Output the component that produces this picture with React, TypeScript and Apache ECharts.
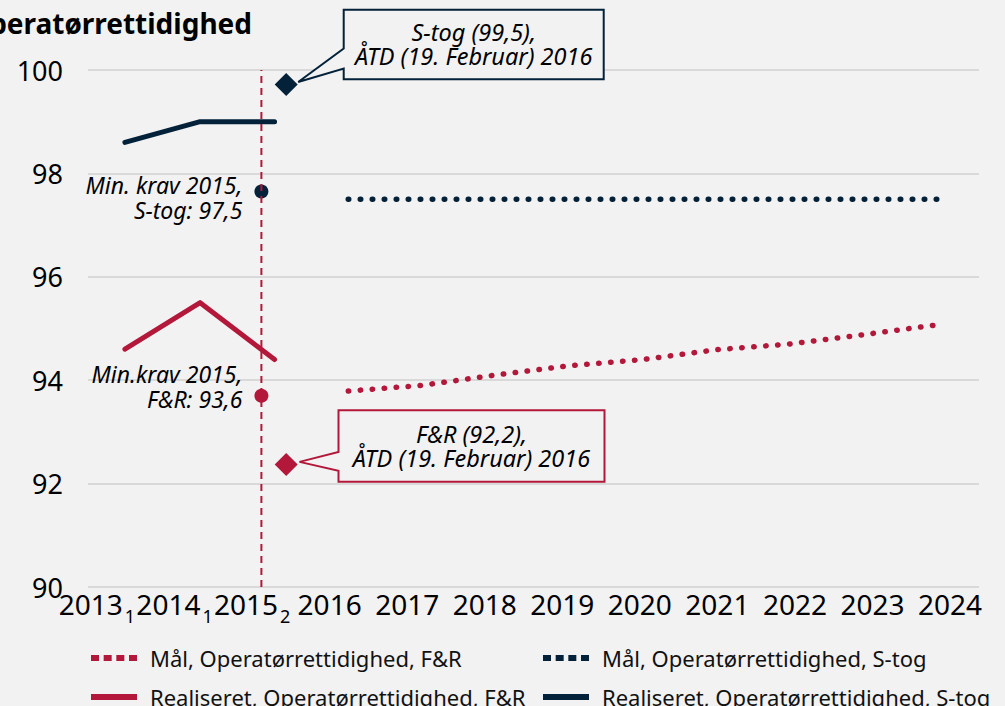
import React, { useEffect, useRef } from 'react';
import * as echarts from 'echarts';

const RED = '#B3173A';
const NAVY = '#03223A';
const BG = '#F2F2F2';
const FONT = '"Noto Sans", sans-serif';

// X axis tick labels (years) and their footnote subscripts
const yearTicks = [2013, 2014, 2015, 2016, 2017, 2018, 2019, 2020, 2021, 2022, 2023, 2024];
const yearSubscripts: Record<number, string> = { 2013: '1', 2014: '1', 2015: '2' };
const yTicks = [90, 92, 94, 96, 98, 100];

// Realised (actual) values
const realizedX = [2013.36, 2014.33, 2015.29];
const realizedFR = [94.6, 95.5, 94.4];
const realizedStog = [98.6, 99.0, 99.0];

// Targets (Mål)
const targetX = [2016.24, 2017.19, 2018.14, 2019.09, 2020.04, 2020.99, 2021.93, 2022.88, 2023.83];
const targetFR = [93.79, 93.9, 94.1, 94.28, 94.4, 94.59, 94.7, 94.88, 95.07];
const targetStog = [97.5, 97.5, 97.5, 97.5, 97.5, 97.5, 97.5, 97.5, 97.5];

// Minimum requirement 2015
const minKravX = 2015.12;
const minKravStog = 97.65;
const minKravFR = 93.7;

// ÅTD 19 Feb 2016
const atdX = 2015.44;
const atdStog = 99.72;
const atdFR = 92.37;

// Vertical reference line
const refLineX = 2015.12;
const refLineY = [90, 100];

const NAME_MAAL_FR = 'Mål, Operatørrettidighed, F&R';
const NAME_MAAL_ST = 'Mål, Operatørrettidighed, S-tog';
const NAME_REAL_FR = 'Realiseret, Operatørrettidighed, F&R';
const NAME_REAL_ST = 'Realiseret, Operatørrettidighed, S-tog';

const zip = (xs: number[], ys: number[]) => xs.map((x, i) => [x, ys[i]]);

const DOTTED_ICON = 'path://M0,0h8v6h-8zM12.67,0h8v6h-8zM25.33,0h8v6h-8zM38,0h8v6h-8z';

export default function App() {
  const ref = useRef<HTMLDivElement>(null);
  useEffect(() => {
    const chart = echarts.init(ref.current!, null, { renderer: 'svg' });
    const legendItem = (name: string, left: number, top: number, icon: string) => ({
      left,
      top,
      itemWidth: 46,
      itemHeight: 6,
      selectedMode: false,
      textStyle: { fontSize: 22, lineHeight: 22, color: '#111', fontFamily: FONT, padding: [0, 0, 0, 8] },
      data: [{ name, icon }],
    });
    const option: any = {
      animation: false,
      backgroundColor: BG,
      grid: { left: 88, right: 26, top: 70, bottom: 119, containLabel: false },
      xAxis: {
        type: 'value',
        min: 2012.884,
        max: 2024.374,
        axisLine: { show: false },
        axisTick: { show: false },
        splitLine: { show: false },
        axisLabel: {
          customValues: yearTicks,
          margin: 3,
          formatter: (v: number) => (yearSubscripts[v] ? `{a|${v}}{s|${yearSubscripts[v]}}` : `{a|${v}}`),
          rich: {
            a: { fontSize: 28, lineHeight: 28, verticalAlign: 'top', color: '#000', fontFamily: FONT },
            s: { fontSize: 18, lineHeight: 35, verticalAlign: 'bottom', color: '#000', fontFamily: FONT, padding: [0, 0, 0, 2] },
          },
        },
      },
      yAxis: {
        type: 'value',
        min: yTicks[0],
        max: yTicks[yTicks.length - 1],
        interval: 2,
        axisLine: { show: false },
        axisTick: { show: false },
        axisLabel: { fontSize: 27, color: '#000', margin: 25, fontFamily: FONT },
        splitLine: { lineStyle: { color: '#D9D9D9', width: 2 } },
      },
      legend: [
        legendItem(NAME_MAAL_FR, 86, 642, DOTTED_ICON),
        legendItem(NAME_REAL_FR, 86, 681, 'rect'),
        legendItem(NAME_MAAL_ST, 538, 642, DOTTED_ICON),
        legendItem(NAME_REAL_ST, 538, 681, 'rect'),
      ],
      graphic: [
        {
          type: 'text',
          style: {
            text: 'Operatørrettidighed',
            x: 252,
            y: 22.5,
            align: 'right',
            verticalAlign: 'middle',
            fontSize: 28,
            fontWeight: 'bold',
            fontFamily: FONT,
            fill: '#000',
          },
        },
      ],
      series: [
        {
          name: NAME_REAL_ST,
          type: 'line',
          data: zip(realizedX, realizedStog),
          symbol: 'none',
          color: NAVY,
          lineStyle: { color: NAVY, width: 5, cap: 'round', join: 'round' },
          silent: true,
        },
        {
          name: NAME_REAL_FR,
          type: 'line',
          data: zip(realizedX, realizedFR),
          symbol: 'none',
          color: RED,
          lineStyle: { color: RED, width: 5, cap: 'round', join: 'round' },
          silent: true,
        },
        {
          name: NAME_MAAL_ST,
          type: 'line',
          data: zip(targetX, targetStog),
          symbol: 'none',
          color: NAVY,
          lineStyle: { color: NAVY, width: 5.5, type: [0.5, 11.5], cap: 'round' },
          silent: true,
        },
        {
          name: NAME_MAAL_FR,
          type: 'line',
          data: zip(targetX, targetFR),
          symbol: 'none',
          color: RED,
          lineStyle: { color: RED, width: 5.5, type: [0.5, 11.5], cap: 'round' },
          silent: true,
        },
        {
          name: 'ref',
          type: 'line',
          data: refLineY.map((y) => [refLineX, y]),
          symbol: 'none',
          lineStyle: { color: RED, width: 2, type: [7, 5] },
          silent: true,
        },
        {
          name: 'minKravStog',
          type: 'scatter',
          symbol: 'circle',
          symbolSize: 14,
          itemStyle: { color: NAVY, opacity: 1 },
          silent: true,
          data: [
            {
              value: [minKravX, minKravStog],
              label: {
                show: true,
                position: 'left',
                distance: 12,
                offset: [0, 6],
                align: 'right',
                formatter: 'Min. krav 2015,\nS-tog: 97,5',
                fontSize: 23,
                lineHeight: 25.5,
                fontStyle: 'italic',
                color: '#000',
                fontFamily: FONT,
              },
            },
          ],
        },
        {
          name: 'minKravFR',
          type: 'scatter',
          symbol: 'circle',
          symbolSize: 14,
          itemStyle: { color: RED, opacity: 1 },
          silent: true,
          data: [
            {
              value: [minKravX, minKravFR],
              label: {
                show: true,
                position: 'left',
                distance: 12,
                offset: [0, -9],
                align: 'right',
                formatter: 'Min.krav 2015,\nF&R: 93,6',
                fontSize: 23,
                lineHeight: 25.5,
                fontStyle: 'italic',
                color: '#000',
                fontFamily: FONT,
              },
            },
          ],
        },
        {
          name: 'atd',
          type: 'scatter',
          symbol: 'diamond',
          symbolSize: 23,
          silent: true,
          data: [
            { value: [atdX, atdStog], itemStyle: { color: NAVY, opacity: 1 } },
            { value: [atdX, atdFR], itemStyle: { color: RED, opacity: 1 } },
          ],
        },
      ],
    };
    chart.setOption(option);

    const callout = (
      p: number[],
      color: string,
      text: string,
      L: number, R: number, T: number, B: number,
      pu: number, pl: number, tx: number, ty: number
    ) => {
      const [px, py] = p;
      const l = px + L, r = px + R, t = py + T, b = py + B;
      return [
        {
          type: 'polygon',
          z: 100,
          shape: {
            points: [
              [l, t], [r, t], [r, b], [l, b], [l, py + pl], [px + tx, py + ty], [l, py + pu],
            ],
          },
          style: { fill: BG, stroke: color, lineWidth: 2 },
        },
        {
          type: 'text',
          z: 101,
          style: {
            text,
            x: (l + r) / 2,
            y: (t + b) / 2,
            align: 'center',
            verticalAlign: 'middle',
            fontSize: 23.5,
            lineHeight: 24,
            fontStyle: 'italic',
            fontFamily: FONT,
            fill: '#000',
          },
        },
      ];
    };
    const pS = chart.convertToPixel({ xAxisIndex: 0, yAxisIndex: 0 }, [atdX, atdStog]) as number[];
    const pF = chart.convertToPixel({ xAxisIndex: 0, yAxisIndex: 0 }, [atdX, atdFR]) as number[];
    chart.setOption({
      graphic: [
        option.graphic[0],
        ...callout(pS, NAVY, 'S-tog (99,5),\nÅTD (19. Februar) 2016', 57.5, 317.5, -74.8, -5.3, -36, -16, 12, -2.5),
        ...callout(pF, RED, 'F&R (92,2),\nÅTD (19. Februar) 2016', 52.3, 318.3, -54.3, 17.4, -12.6, 6.4, 13.3, -2.6),
      ],
    });
    return () => chart.dispose();
  }, []);
  return <div ref={ref} style={{ position: 'fixed', left: 0, top: 0, width: 1005, height: 706 }} />;
}
